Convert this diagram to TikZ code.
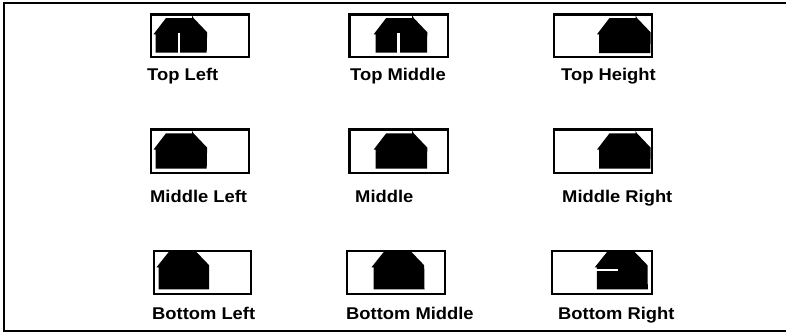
\documentclass[tikz,border=0pt]{standalone}
\usepackage{fontspec}
\setmainfont{Liberation Sans}
\tikzset{
  x=1pt,y=-1pt,
  frameline/.style={draw=black,line width=2pt},
  thickbox/.style={draw=black,line width=2.3pt},
  thinbox/.style={draw=black,line width=2pt},
  housefill/.style={fill=black},
  gapline/.style={draw=white,line width=2.2pt},
  lbl/.style={anchor=base west,inner sep=0pt,font=\fontsize{17}{19}\selectfont\bfseries\addfontfeatures{FakeStretch=1.08}}
}
% #1 house left, #2 house right, #3 top, #4 shoulder, #5 bottom
\newcommand{\housebox}[5]{%
  \path[housefill] (#1-2,#4+2) -- (#1+10.5,#3) -- (#1+36.5,#3) -- (#1+36.5,#3-2.5) -- (#1+38,#3) -- (#1+51.6,#4) -- (#2,#5) -- (#1,#5) -- (#1,#4+2) -- cycle;
}
\newcommand{\flathouse}[5]{%
  \path[housefill] (#1-2,#4+2) -- (#1+11,#3) -- (#1+37,#3) -- (#1+50.7,#4) -- (#2,#5) -- (#1,#5) -- (#1,#4+2) -- cycle;
}
\begin{document}
\begin{tikzpicture}
\useasboundingbox (0,0) rectangle (786,332);
\coordinate (tl) at (4,3);
\coordinate (tr) at (786,3);
\coordinate (bl) at (4,331);
\coordinate (br) at (786,331);
\draw[frameline] (tr) -- (tl) -- (bl) -- (br);

% row 1
\draw[thickbox] (151,14.5) rectangle (249,57);
\housebox{155.5}{206.7}{18}{32.3}{52.7}
\draw[gapline] (178.6,33) -- (178.6,53.5);
\draw[thickbox] (349.5,14.5) rectangle (448,57);
\housebox{375.7}{427}{18}{32.3}{52.7}
\draw[gapline] (398.5,33) -- (398.5,53.5);
\draw[thickbox] (554,14.5) rectangle (652,57);
\housebox{599}{650.4}{18}{32.3}{53}

% row 2
\draw[thickbox] (151,129.5) rectangle (249,173);
\housebox{155.5}{206.7}{133.3}{147.6}{168.5}
\draw[thickbox] (349.5,129.5) rectangle (448,173);
\housebox{375.7}{427}{133.3}{147.6}{168.5}
\draw[thickbox] (554,129.5) rectangle (652,173);
\housebox{599}{650.4}{133.3}{147.6}{168.5}

% row 3
\draw[thinbox] (153.5,250.5) rectangle (251,294);
\flathouse{158.5}{209}{251}{265.3}{289.3}
\draw[thinbox] (347,250.5) rectangle (445,294);
\flathouse{373.5}{424.5}{251}{265.3}{289.3}
\draw[thinbox] (552,250.5) rectangle (652,294);
\flathouse{596.8}{647.8}{251}{265.3}{289.3}
\draw[gapline] (595,269.7) -- (618,269.7);

% labels
\node[lbl] (a) at (147,80) {Top Left};
\node[lbl] (b) at (350,80) {Top Middle};
\node[lbl] (c) at (561,80) {Top Height};
\node[lbl] (d) at (150,202) {Middle Left};
\node[lbl] (e) at (355,202) {Middle};
\node[lbl] (f) at (562,202) {Middle Right};
\node[lbl] (g) at (152,319) {Bottom Left};
\node[lbl] (h) at (346,319) {Bottom Middle};
\node[lbl] (i) at (558,319) {Bottom Right};
\end{tikzpicture}
\end{document}
